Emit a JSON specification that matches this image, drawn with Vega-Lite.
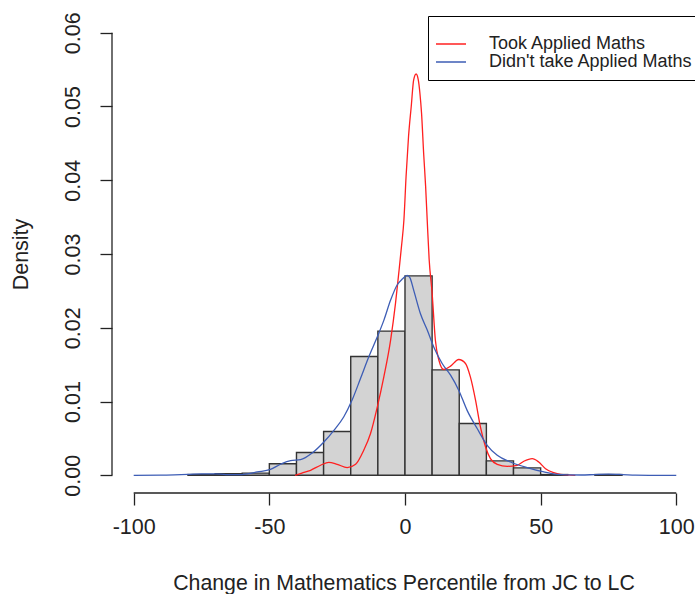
{
  "$schema": "https://vega.github.io/schema/vega-lite/v6.json",
  "width": 583,
  "height": 478,
  "autosize": "none",
  "padding": {"left": 112, "top": 15, "right": 0, "bottom": 101},
  "background": "white",
  "config": {
    "view": {"stroke": null},
    "font": "Liberation Sans"
  },
  "datasets": {
    "bins": [
      {"start": -80, "end": -70, "density": 0.0001},
      {"start": -70, "end": -60, "density": 0.0002},
      {"start": -60, "end": -50, "density": 0.0003},
      {"start": -50, "end": -40, "density": 0.00157},
      {"start": -40, "end": -30, "density": 0.00309},
      {"start": -30, "end": -20, "density": 0.00594},
      {"start": -20, "end": -10, "density": 0.0161},
      {"start": -10, "end": 0, "density": 0.01955},
      {"start": 0, "end": 10, "density": 0.02703},
      {"start": 10, "end": 20, "density": 0.01429},
      {"start": 20, "end": 30, "density": 0.00703},
      {"start": 30, "end": 40, "density": 0.00195},
      {"start": 40, "end": 50, "density": 0.001},
      {"start": 50, "end": 60, "density": 0.0001},
      {"start": 70, "end": 80, "density": 0.0001}
    ],
    "curves": [
      {"group": "Took Applied Maths", "x": -40.5, "density": 0},
      {"group": "Took Applied Maths", "x": -38, "density": 0.0003},
      {"group": "Took Applied Maths", "x": -34.8, "density": 0.00068},
      {"group": "Took Applied Maths", "x": -31.1, "density": 0.00136},
      {"group": "Took Applied Maths", "x": -28.1, "density": 0.00176},
      {"group": "Took Applied Maths", "x": -25, "density": 0.00149},
      {"group": "Took Applied Maths", "x": -21.3, "density": 0.00104},
      {"group": "Took Applied Maths", "x": -18.2, "density": 0.00149},
      {"group": "Took Applied Maths", "x": -15.2, "density": 0.0034},
      {"group": "Took Applied Maths", "x": -12.7, "density": 0.00566},
      {"group": "Took Applied Maths", "x": -10.2, "density": 0.00928},
      {"group": "Took Applied Maths", "x": -7.8, "density": 0.01334},
      {"group": "Took Applied Maths", "x": -5.3, "density": 0.01833},
      {"group": "Took Applied Maths", "x": -3.5, "density": 0.0233},
      {"group": "Took Applied Maths", "x": -2.3, "density": 0.0274},
      {"group": "Took Applied Maths", "x": -1.3, "density": 0.031},
      {"group": "Took Applied Maths", "x": -0.4, "density": 0.0346},
      {"group": "Took Applied Maths", "x": 0.4, "density": 0.0405},
      {"group": "Took Applied Maths", "x": 1.3, "density": 0.0459},
      {"group": "Took Applied Maths", "x": 2.3, "density": 0.05},
      {"group": "Took Applied Maths", "x": 3.2, "density": 0.0536},
      {"group": "Took Applied Maths", "x": 4.1, "density": 0.0544},
      {"group": "Took Applied Maths", "x": 4.9, "density": 0.0536},
      {"group": "Took Applied Maths", "x": 5.5, "density": 0.0518},
      {"group": "Took Applied Maths", "x": 6.1, "density": 0.0491},
      {"group": "Took Applied Maths", "x": 6.9, "density": 0.0435},
      {"group": "Took Applied Maths", "x": 7.6, "density": 0.0392},
      {"group": "Took Applied Maths", "x": 8.2, "density": 0.0345},
      {"group": "Took Applied Maths", "x": 8.9, "density": 0.0293},
      {"group": "Took Applied Maths", "x": 10.0, "density": 0.0247},
      {"group": "Took Applied Maths", "x": 11.2, "density": 0.0183},
      {"group": "Took Applied Maths", "x": 12.5, "density": 0.0156},
      {"group": "Took Applied Maths", "x": 14.3, "density": 0.01434},
      {"group": "Took Applied Maths", "x": 16.8, "density": 0.0148},
      {"group": "Took Applied Maths", "x": 19.8, "density": 0.0157},
      {"group": "Took Applied Maths", "x": 22.3, "density": 0.01516},
      {"group": "Took Applied Maths", "x": 24.1, "density": 0.01334},
      {"group": "Took Applied Maths", "x": 26.0, "density": 0.0102},
      {"group": "Took Applied Maths", "x": 27.8, "density": 0.00656},
      {"group": "Took Applied Maths", "x": 29.7, "density": 0.00384},
      {"group": "Took Applied Maths", "x": 31.5, "density": 0.00226},
      {"group": "Took Applied Maths", "x": 34.0, "density": 0.00149},
      {"group": "Took Applied Maths", "x": 37.7, "density": 0.00122},
      {"group": "Took Applied Maths", "x": 41.4, "density": 0.00136},
      {"group": "Took Applied Maths", "x": 43.8, "density": 0.0019},
      {"group": "Took Applied Maths", "x": 46.9, "density": 0.00226},
      {"group": "Took Applied Maths", "x": 49.3, "density": 0.0018},
      {"group": "Took Applied Maths", "x": 51.8, "density": 0.0009},
      {"group": "Took Applied Maths", "x": 54.8, "density": 0.00036},
      {"group": "Took Applied Maths", "x": 57.3, "density": 0.00013},
      {"group": "Took Applied Maths", "x": 62.8, "density": 0},
      {"group": "Didn't take Applied Maths", "x": -100, "density": 0},
      {"group": "Didn't take Applied Maths", "x": -90, "density": 0.00001},
      {"group": "Didn't take Applied Maths", "x": -85, "density": 0.00005},
      {"group": "Didn't take Applied Maths", "x": -80, "density": 0.00012},
      {"group": "Didn't take Applied Maths", "x": -75, "density": 0.0002},
      {"group": "Didn't take Applied Maths", "x": -70, "density": 0.0002},
      {"group": "Didn't take Applied Maths", "x": -66, "density": 0.0001},
      {"group": "Didn't take Applied Maths", "x": -62, "density": 0.00008},
      {"group": "Didn't take Applied Maths", "x": -58, "density": 0.0002},
      {"group": "Didn't take Applied Maths", "x": -54.5, "density": 0.00045},
      {"group": "Didn't take Applied Maths", "x": -49.6, "density": 0.0008},
      {"group": "Didn't take Applied Maths", "x": -45.9, "density": 0.0015},
      {"group": "Didn't take Applied Maths", "x": -42.2, "density": 0.002},
      {"group": "Didn't take Applied Maths", "x": -38.5, "density": 0.00213},
      {"group": "Didn't take Applied Maths", "x": -34.2, "density": 0.00303},
      {"group": "Didn't take Applied Maths", "x": -29.9, "density": 0.00452},
      {"group": "Didn't take Applied Maths", "x": -26.2, "density": 0.0061},
      {"group": "Didn't take Applied Maths", "x": -22.6, "density": 0.0079},
      {"group": "Didn't take Applied Maths", "x": -19.5, "density": 0.0102},
      {"group": "Didn't take Applied Maths", "x": -16.4, "density": 0.01312},
      {"group": "Didn't take Applied Maths", "x": -13.3, "density": 0.0161},
      {"group": "Didn't take Applied Maths", "x": -10.2, "density": 0.01877},
      {"group": "Didn't take Applied Maths", "x": -7.8, "density": 0.021},
      {"group": "Didn't take Applied Maths", "x": -5.3, "density": 0.02375},
      {"group": "Didn't take Applied Maths", "x": -2.9, "density": 0.0258},
      {"group": "Didn't take Applied Maths", "x": -1.0, "density": 0.0266},
      {"group": "Didn't take Applied Maths", "x": 0.8, "density": 0.0271},
      {"group": "Didn't take Applied Maths", "x": 1.8, "density": 0.0268},
      {"group": "Didn't take Applied Maths", "x": 3.2, "density": 0.0251},
      {"group": "Didn't take Applied Maths", "x": 5.7, "density": 0.0219},
      {"group": "Didn't take Applied Maths", "x": 8.2, "density": 0.0197},
      {"group": "Didn't take Applied Maths", "x": 10.6, "density": 0.0174},
      {"group": "Didn't take Applied Maths", "x": 13.7, "density": 0.01516},
      {"group": "Didn't take Applied Maths", "x": 16.8, "density": 0.01357},
      {"group": "Didn't take Applied Maths", "x": 19.8, "density": 0.01154},
      {"group": "Didn't take Applied Maths", "x": 22.9, "density": 0.0088},
      {"group": "Didn't take Applied Maths", "x": 26.6, "density": 0.00634},
      {"group": "Didn't take Applied Maths", "x": 30.3, "density": 0.00407},
      {"group": "Didn't take Applied Maths", "x": 34.0, "density": 0.00271},
      {"group": "Didn't take Applied Maths", "x": 38.9, "density": 0.0018},
      {"group": "Didn't take Applied Maths", "x": 45.0, "density": 0.00104},
      {"group": "Didn't take Applied Maths", "x": 51.2, "density": 0.00045},
      {"group": "Didn't take Applied Maths", "x": 56.1, "density": 0.00013},
      {"group": "Didn't take Applied Maths", "x": 60, "density": 0.00006},
      {"group": "Didn't take Applied Maths", "x": 65, "density": 0.00004},
      {"group": "Didn't take Applied Maths", "x": 70, "density": 0.0001},
      {"group": "Didn't take Applied Maths", "x": 75, "density": 0.00015},
      {"group": "Didn't take Applied Maths", "x": 80, "density": 0.0001},
      {"group": "Didn't take Applied Maths", "x": 85, "density": 0.00002},
      {"group": "Didn't take Applied Maths", "x": 90, "density": 0},
      {"group": "Didn't take Applied Maths", "x": 100, "density": 0}
    ]
  },
  "layer": [
    {
      "data": {"name": "bins"},
      "mark": {"type": "rect", "fill": "#d3d3d3", "stroke": "#333333", "strokeWidth": 1.4},
      "encoding": {
        "x": {
          "field": "start", "type": "quantitative",
          "scale": {"domain": [-108, 106.9], "nice": false, "zero": false},
          "axis": {
            "values": [-100, -50, 0, 50, 100],
            "labelExpr": "toString(datum.value)",
            "domain": false, "grid": false,
            "tickSize": 12, "tickColor": "#222222", "tickWidth": 1.3,
            "labelFontSize": 21.5, "labelColor": "#222222", "labelPadding": 11,
            "labelFlush": false,
            "title": "Change in Mathematics Percentile from JC to LC",
            "titleFontSize": 21.3, "titleFontWeight": "normal", "titleColor": "#222222",
            "titlePadding": 35
          }
        },
        "x2": {"field": "end"},
        "y": {
          "field": "density", "type": "quantitative",
          "scale": {"domain": [-0.0024, 0.0624], "nice": false, "zero": false},
          "axis": {
            "values": [0, 0.01, 0.02, 0.03, 0.04, 0.05, 0.06],
            "format": ".2f",
            "domain": false, "grid": false,
            "tickSize": 12, "tickColor": "#222222", "tickWidth": 1.3,
            "labelFontSize": 21.5, "labelColor": "#222222", "labelPadding": 16,
            "labelAngle": 270, "labelAlign": "center", "labelBaseline": "bottom",
            "labelFlush": false,
            "title": "Density",
            "titleFontSize": 21.5, "titleFontWeight": "normal", "titleColor": "#222222",
            "titlePadding": 30
          }
        },
        "y2": {"datum": 0}
      }
    },
    {
      "data": {"name": "curves"},
      "mark": {"type": "line", "strokeWidth": 1.3, "interpolate": "monotone"},
      "encoding": {
        "x": {"field": "x", "type": "quantitative"},
        "y": {"field": "density", "type": "quantitative"},
        "color": {
          "field": "group", "type": "nominal",
          "scale": {"domain": ["Took Applied Maths", "Didn't take Applied Maths"], "range": ["#ff2020", "#3d5db5"]},
          "legend": {
            "orient": "none", "legendX": 316, "legendY": 1,
            "title": " ", "titleFontSize": 6, "titlePadding": 4,
            "strokeColor": "#000000", "fillColor": "white", "padding": 9,
            "symbolType": "M-2,0H2", "symbolSize": 225, "symbolStrokeWidth": 1.5,
            "symbolOffset": 5,
            "labelFontSize": 18, "labelColor": "#222222", "labelOffset": 29,
            "labelLimit": 0,
            "rowPadding": 0
          }
        }
      }
    },
    {
      "data": {"values": [{}]},
      "mark": {"type": "rule", "color": "#222222", "strokeWidth": 1.3},
      "encoding": {
        "x": {"datum": -100, "type": "quantitative"},
        "x2": {"datum": 100},
        "y": {"datum": -0.0024, "type": "quantitative"}
      }
    },
    {
      "data": {"values": [{}]},
      "mark": {"type": "rule", "color": "#222222", "strokeWidth": 1.3},
      "encoding": {
        "x": {"datum": -108, "type": "quantitative"},
        "y": {"datum": 0, "type": "quantitative"},
        "y2": {"datum": 0.06}
      }
    }
  ]
}
